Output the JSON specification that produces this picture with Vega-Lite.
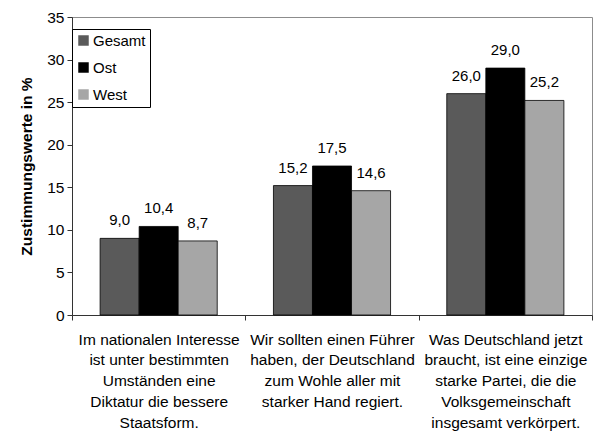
{
  "$schema": "https://vega.github.io/schema/vega-lite/v6.json",
  "autosize": {"type": "none"},
  "width": 520,
  "height": 298,
  "padding": {"left": 72, "top": 17, "right": 5, "bottom": 122},
  "config": {
    "font": "Liberation Sans",
    "locale": {"number": {"decimal": ",", "thousands": ".", "grouping": [3], "currency": ["", " €"]}},
    "view": {"stroke": "#8c8c8c", "strokeWidth": 1}
  },
  "data": {
    "values": [
      {"aussage": "Im nationalen Interesse|ist unter bestimmten|Umständen eine|Diktatur die bessere|Staatsform.", "gruppe": "Gesamt", "wert": 9.0},
      {"aussage": "Im nationalen Interesse|ist unter bestimmten|Umständen eine|Diktatur die bessere|Staatsform.", "gruppe": "Ost", "wert": 10.4},
      {"aussage": "Im nationalen Interesse|ist unter bestimmten|Umständen eine|Diktatur die bessere|Staatsform.", "gruppe": "West", "wert": 8.7},
      {"aussage": "Wir sollten einen Führer|haben, der Deutschland|zum Wohle aller mit|starker Hand regiert.", "gruppe": "Gesamt", "wert": 15.2},
      {"aussage": "Wir sollten einen Führer|haben, der Deutschland|zum Wohle aller mit|starker Hand regiert.", "gruppe": "Ost", "wert": 17.5},
      {"aussage": "Wir sollten einen Führer|haben, der Deutschland|zum Wohle aller mit|starker Hand regiert.", "gruppe": "West", "wert": 14.6},
      {"aussage": "Was Deutschland jetzt|braucht, ist eine einzige|starke Partei, die die|Volksgemeinschaft|insgesamt verkörpert.", "gruppe": "Gesamt", "wert": 26.0},
      {"aussage": "Was Deutschland jetzt|braucht, ist eine einzige|starke Partei, die die|Volksgemeinschaft|insgesamt verkörpert.", "gruppe": "Ost", "wert": 29.0},
      {"aussage": "Was Deutschland jetzt|braucht, ist eine einzige|starke Partei, die die|Volksgemeinschaft|insgesamt verkörpert.", "gruppe": "West", "wert": 25.2}
    ]
  },
  "encoding": {
    "x": {
      "field": "aussage", "type": "nominal", "sort": null,
      "scale": {"paddingInner": 0, "paddingOuter": 0},
      "axis": {
        "title": null, "labelAngle": 0, "tickBand": "extent",
        "labelExpr": "isValid(datum.value) ? split(datum.value, '|') : ''",
        "labelFontSize": 15.5, "labelColor": "#000", "labelLineHeight": 20.8,
        "labelLimit": 300, "labelPadding": 12, "tickSize": 5,
        "domainColor": "#333", "tickColor": "#333", "labelBaseline": "top"
      }
    },
    "xOffset": {"field": "gruppe", "type": "nominal", "sort": ["Gesamt", "Ost", "West"], "scale": {"paddingInner": 0, "paddingOuter": 0.72}},
    "y": {
      "field": "wert", "type": "quantitative",
      "scale": {"domain": [0, 35]},
      "axis": {
        "title": "Zustimmungswerte in %", "values": [0, 5, 10, 15, 20, 25, 30, 35],
        "grid": false, "labelFontSize": 15.5, "labelColor": "#000",
        "tickSize": 5, "labelPadding": 3, "domainColor": "#333", "tickColor": "#333",
        "titleFontSize": 15.5, "titleFontWeight": "bold", "titleColor": "#000", "titlePadding": 12
      }
    }
  },
  "layer": [
    {
      "mark": {"type": "bar", "stroke": "#000", "strokeWidth": 0.8},
      "encoding": {
        "color": {
          "field": "gruppe", "type": "nominal", "sort": ["Gesamt", "Ost", "West"],
          "scale": {"domain": ["Gesamt", "Ost", "West"], "range": ["#5a5a5a", "#000000", "#a6a6a6"]},
          "legend": {
            "title": null, "orient": "none", "legendX": 0, "legendY": 12,
            "symbolType": "square", "symbolSize": 110, "symbolStrokeColor": "#000", "symbolStrokeWidth": 0.8,
            "labelFontSize": 15, "labelColor": "#000", "labelOffset": 2,
            "rowPadding": 11, "padding": 4,
            "strokeColor": "#000", "fillColor": "#fff",
            "encode": {"symbols": {
              "enter": {"fill": {"signal": "datum.value === 'Ost' ? '#000000' : '#5a5a5a'"}},
              "update": {"fill": {"signal": "datum.value === 'Ost' ? '#000000' : '#5a5a5a'"}, "opacity": {"value": 1}}
            }}
          }
        }
      }
    },
    {
      "mark": {"type": "text", "baseline": "alphabetic", "dy": -13, "fontSize": 15, "color": "#000"},
      "encoding": {
        "text": {"field": "wert", "type": "quantitative", "format": ".1f"}
      }
    }
  ]
}
